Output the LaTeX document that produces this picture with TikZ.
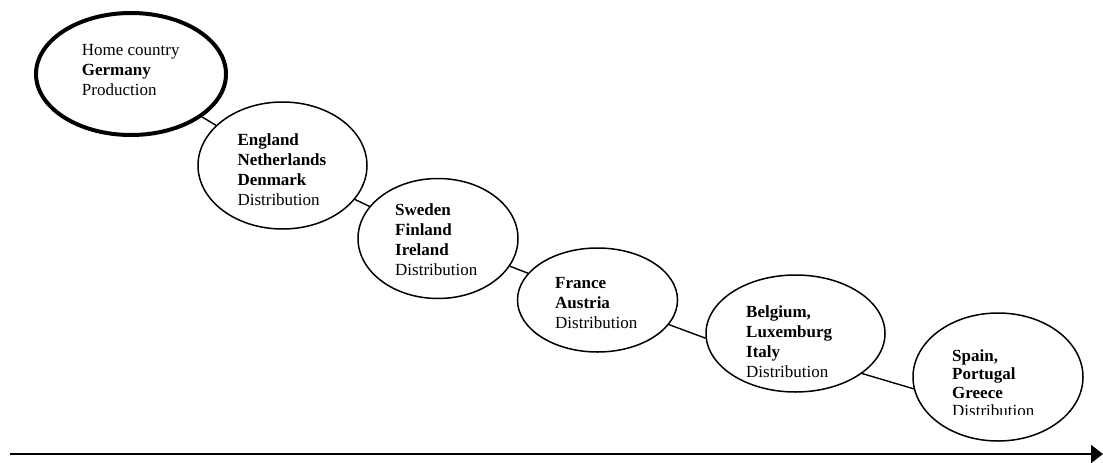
\documentclass[tikz,border=0pt]{standalone}
\usepackage{fontspec}
\setmainfont{Liberation Serif}
\usetikzlibrary{shapes.geometric,arrows.meta}

\tikzset{
  market/.style={draw, ellipse, line width=1.5pt, inner sep=0pt},
  homemarket/.style={market, line width=4pt},
  label/.style={anchor=north west, inner sep=0pt, align=left,
                font=\fontsize{17}{20}\selectfont},
  link/.style={line width=1.4pt},
  timeline/.style={line width=2pt, -{Triangle[length=12pt,width=18pt]}}
}

\begin{document}
\begin{tikzpicture}[x=1pt, y=-1pt]
  \useasboundingbox (0,0) rectangle (1103,463);

  % markets, one ellipse each
  \node[homemarket, minimum width=190pt, minimum height=122pt] (de) at (131,74) {};
  \node[market, minimum width=169pt, minimum height=127pt] (en) at (282.5,165.5) {};
  \node[market, minimum width=160pt, minimum height=120pt] (se) at (438,238.5) {};
  \node[market, minimum width=160pt, minimum height=104pt] (fr) at (597.5,300) {};
  \node[market, minimum width=179pt, minimum height=117pt] (be) at (795.5,333.5) {};
  \node[market, minimum width=170pt, minimum height=128pt] (sp) at (998,377) {};

  % texts inside the ellipses
  \node[label] (tde) at (81.7,44.4) {Home country\\\textbf{Germany}\\Production};
  \node[label] (ten) at (237.3,133.4) {\textbf{England}\\\textbf{Netherlands}\\\textbf{Denmark}\\Distribution};
  \node[label] (tse) at (395,203.4) {\textbf{Sweden}\\\textbf{Finland}\\\textbf{Ireland}\\Distribution};
  \node[label] (tfr) at (555,276.7) {\textbf{France}\\\textbf{Austria}\\Distribution};
  \node[label] (tbe) at (746,305.7) {\textbf{Belgium,}\\\textbf{Luxemburg}\\\textbf{Italy}\\Distribution};
  \begin{scope}
    \clip (900,330) rectangle (1090,414);
    \node[label, font=\fontsize{17}{18.5}\selectfont] (tsp) at (952,349.4)
      {\textbf{Spain,}\\\textbf{Portugal}\\\textbf{Greece}\\Distribution};
  \end{scope}

  % links between consecutive markets
  \draw[link] (de) -- (en);
  \draw[link] (en) -- (se);
  \draw[link] (se) -- (fr);
  \draw[link] (fr.-19) -- (be.183);
  \draw[link] (be.-31) -- (sp.188);

  % time axis
  \coordinate (t0) at (10,454);
  \coordinate (t1) at (1103,454);
  \draw[timeline] (t0) -- (t1);
\end{tikzpicture}
\end{document}
